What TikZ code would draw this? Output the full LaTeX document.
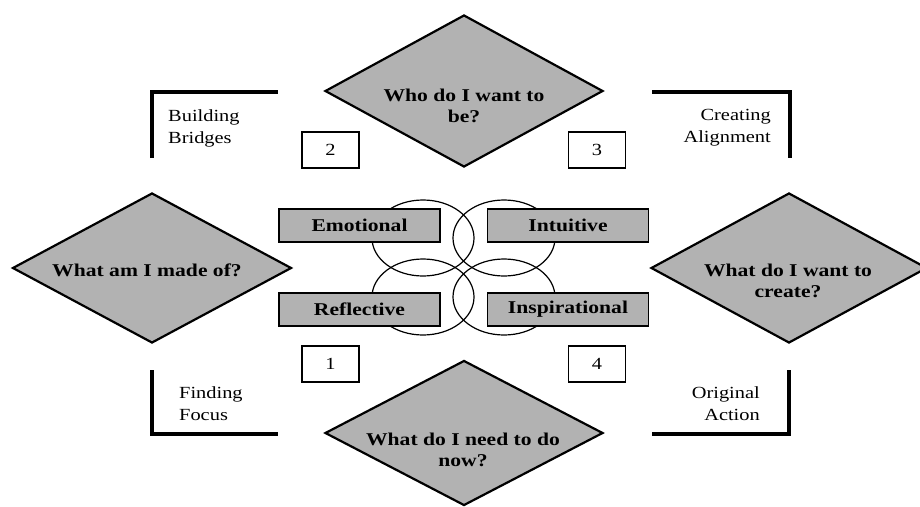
\documentclass[tikz,border=0pt]{standalone}
\usepackage{fontspec}
\setmainfont{Liberation Serif}[FakeStretch=1.2]
\usetikzlibrary{shapes.geometric}

\begin{document}
\begin{tikzpicture}[x=1pt, y=-1pt,
      ask/.style = {shape=diamond, draw, line width=2.2pt,
        fill=gray!60, inner sep=0pt,
        minimum width=278pt, minimum height=152pt
      },
      asktext/.style = {align=center, inner sep=0pt,
        font=\bfseries\fontsize{18}{21}\selectfont
      },
      ring/.style = {shape=ellipse, draw, line width=1.2pt,
        minimum width=102pt, minimum height=76pt
      },
      tag/.style = {shape=rectangle, draw, line width=1.8pt,
        fill=gray!60, minimum width=161pt, minimum height=33pt,
        font=\bfseries\fontsize{18}{21}\selectfont
      },
      num/.style = {shape=rectangle, draw, line width=1.8pt,
        fill=white, minimum width=57pt, minimum height=36pt,
        font=\fontsize{17}{21}\selectfont
      },
      corner/.style = {line width=3.2pt},
      note/.style = {inner sep=0pt, font=\fontsize{17}{22}\selectfont}
    ]
    \path[use as bounding box, fill=white] (0,0) rectangle (920,506);

    % four questions
    \node[ask] (who) at (464,91) {};
    \node[ask, minimum width=279pt, minimum height=150pt] (made) at (152,268) {};
    \node[ask, minimum width=276pt, minimum height=150pt] (create) at (789,268) {};
    \node[ask, minimum height=145pt] (now) at (464,433) {};

    \node[asktext] (whot) at (464,106) {Who do I want to\\be?};
    \node[asktext] (madet) at (147,270) {What am I made of?};
    \node[asktext] (createt) at (788,281) {What do I want to\\create?};
    \node[asktext] (nowt) at (463,450) {What do I need to do\\now?};

    % rings behind the labels
    \node[ring] (r1) at (423,238) {};
    \node[ring] (r2) at (504,238) {};
    \node[ring] (r3) at (423,297) {};
    \node[ring] (r4) at (504,297) {};

    \node[tag] (emo) at (359.5,225.5) {Emotional};
    \node[tag] (intu) at (568,225.5) {Intuitive};
    \node[tag] (refl) at (359.5,309.5) {Reflective};
    \node[tag] (insp) at (568,309.5) {Inspirational};

    \node[num] (n1) at (330.5,364) {1};
    \node[num] (n2) at (330.5,150) {2};
    \node[num] (n3) at (597,150) {3};
    \node[num] (n4) at (597,364) {4};

    % corner brackets
    \draw[corner] (152,158) |- (278,92);
    \draw[corner] (652,92) -| (790,158);
    \draw[corner] (152,370) |- (278,434);
    \draw[corner] (652,434) -| (789,370);

    \node[note, anchor=west, align=left] (bridges) at (168,128) {Building\\Bridges};
    \node[note, anchor=east, align=right] (align) at (771,128) {Creating\\Alignment};
    \node[note, anchor=west, align=left] (focus) at (179,404) {Finding\\Focus};
    \node[note, anchor=east, align=right] (action) at (760,404) {Original\\Action};
\end{tikzpicture}
\end{document}
